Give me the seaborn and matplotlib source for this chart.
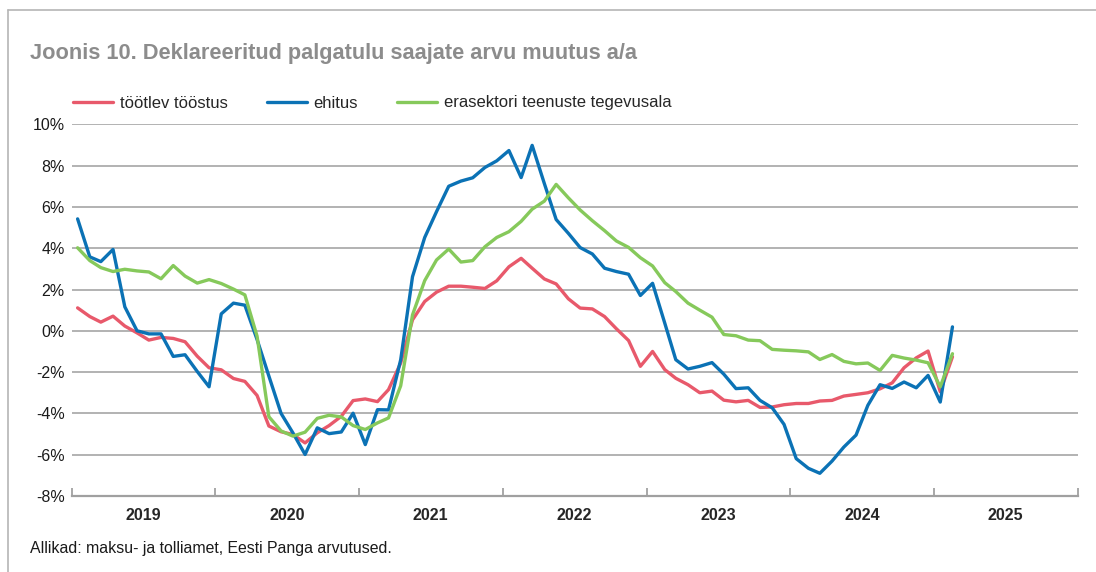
import pandas as pd
import numpy as np
import matplotlib
matplotlib.use('Agg')
import matplotlib.pyplot as plt
import matplotlib.dates as mdates
from matplotlib.lines import Line2D
from matplotlib.ticker import FuncFormatter, FixedLocator
import seaborn as sns

# ==========================
# DATA (monthly, Jan 2019 - Feb 2025, % y/y)
# ==========================
start_month = '2019-01-01'
n_months = 74

tootlev_toostus = [
    1.11, 0.69, 0.42, 0.71, 0.23, -0.10, -0.45, -0.32, -0.37, -0.53, -1.23, -1.79,
    -1.89, -2.31, -2.45, -3.13, -4.61, -4.89, -5.02, -5.43, -4.94, -4.59, -4.14, -3.38,
    -3.30, -3.43, -2.85, -1.56, 0.53, 1.42, 1.87, 2.16, 2.16, 2.11, 2.05, 2.42,
    3.10, 3.51, 3.03, 2.51, 2.27, 1.55, 1.10, 1.06, 0.69, 0.10, -0.47, -1.72,
    -1.00, -1.88, -2.30, -2.61, -3.00, -2.92, -3.36, -3.44, -3.37, -3.71, -3.69, -3.58,
    -3.52, -3.52, -3.40, -3.37, -3.16, -3.08, -3.00, -2.81, -2.52, -1.79, -1.31, -0.98,
    -2.95, -1.26,
]
ehitus = [
    5.42, 3.58, 3.35, 3.94, 1.16, 0.00, -0.15, -0.15, -1.24, -1.16, -1.97, -2.71,
    0.82, 1.34, 1.24, -0.42, -2.19, -4.00, -4.94, -5.99, -4.70, -4.98, -4.90, -3.99,
    -5.51, -3.82, -3.83, -1.40, 2.62, 4.52, 5.77, 7.00, 7.25, 7.41, 7.91, 8.23,
    8.73, 7.42, 8.98, 7.13, 5.39, 4.72, 4.03, 3.72, 3.03, 2.87, 2.74, 1.71,
    2.30, 0.37, -1.40, -1.85, -1.72, -1.54, -2.10, -2.80, -2.76, -3.37, -3.73, -4.53,
    -6.19, -6.66, -6.90, -6.31, -5.63, -5.05, -3.61, -2.61, -2.79, -2.48, -2.76, -2.16,
    -3.45, 0.19,
]
teenused = [
    4.02, 3.40, 3.06, 2.87, 2.98, 2.90, 2.85, 2.52, 3.16, 2.65, 2.31, 2.48,
    2.29, 2.02, 1.74, -0.26, -4.16, -4.85, -5.10, -4.91, -4.24, -4.09, -4.17, -4.59,
    -4.78, -4.46, -4.22, -2.66, 0.77, 2.43, 3.43, 3.96, 3.33, 3.40, 4.07, 4.52,
    4.80, 5.30, 5.89, 6.28, 7.09, 6.44, 5.85, 5.33, 4.85, 4.35, 4.04, 3.54,
    3.14, 2.33, 1.90, 1.34, 1.00, 0.66, -0.18, -0.24, -0.45, -0.48, -0.90, -0.94,
    -0.97, -1.02, -1.39, -1.15, -1.48, -1.60, -1.56, -1.92, -1.19, -1.32, -1.42, -1.55,
    -2.71, -1.11,
]

series_names = ['töötlev tööstus', 'ehitus', 'erasektori teenuste tegevusala']
series_colors = ['#e8596b', '#0b72b5', '#86c95b']
year_labels = ['2019', '2020', '2021', '2022', '2023', '2024', '2025']
y_ticks = [-8, -6, -4, -2, 0, 2, 4, 6, 8, 10]

title_text = 'Joonis 10. Deklareeritud palgatulu saajate arvu muutus a/a'
source_text = 'Allikad: maksu- ja tolliamet, Eesti Panga arvutused.'

# ==========================
# BUILD TABLE
# ==========================
months = pd.date_range(start_month, periods=n_months, freq='MS') + pd.Timedelta(days=15)
df = pd.DataFrame({
    'kuu': np.tile(months, 3),
    'muutus': tootlev_toostus + ehitus + teenused,
    'sektor': np.repeat(series_names, n_months),
})

# ==========================
# PLOT
# ==========================
sns.set_theme(style='white')
plt.rcParams['font.family'] = ['Liberation Sans', 'DejaVu Sans']

W, H = 1096, 572
fig = plt.figure(figsize=(W / 100, H / 100), dpi=100)
ax = fig.add_axes([71.7 / W, 1 - 496 / H, (1078 - 71.7) / W, (496 - 124.3) / H])

sns.lineplot(data=df, x='kuu', y='muutus', hue='sektor', hue_order=series_names,
             palette=series_colors, linewidth=2.4, estimator=None, sort=False,
             legend=False, ax=ax)

ax.set_xlim(pd.Timestamp('2019-01-01'), pd.Timestamp('2026-01-01'))
ax.set_ylim(-8, 10)
ax.set_xlabel('')
ax.set_ylabel('')

# y axis
ax.yaxis.set_major_locator(FixedLocator(y_ticks))
ax.yaxis.set_major_formatter(FuncFormatter(lambda v, p: f'{int(round(v))}%'))
ax.tick_params(axis='y', length=0, pad=5, labelsize=11.5, labelcolor='#1a1a1a')
ax.yaxis.grid(True, color='#a6a6a6', linewidth=1.2)
ax.xaxis.grid(False)
ax.set_axisbelow(True)

# x axis: year boundaries as ticks, year names in the middle
ax.xaxis.set_major_locator(mdates.YearLocator())
ax.xaxis.set_major_formatter(plt.NullFormatter())
ax.xaxis.set_minor_locator(mdates.MonthLocator(bymonth=7))
ax.xaxis.set_minor_formatter(FuncFormatter(lambda v, p: year_labels[p] if p < len(year_labels) else ''))
ax.tick_params(axis='x', which='major', direction='in', length=6, width=1.2,
               color='#9a9a9a', bottom=True)
ax.tick_params(axis='x', which='minor', length=0, pad=9, labelsize=11.5)
for lbl in ax.get_xticklabels(minor=True):
    lbl.set_fontweight('bold')

for side in ['top', 'right', 'left']:
    ax.spines[side].set_visible(False)
ax.spines['bottom'].set_color('#a0a0a0')
ax.spines['bottom'].set_linewidth(1.6)

# legend
handles = [Line2D([0], [0], color=c, linewidth=2.4) for c in series_colors]
fig.legend(handles, series_names, loc='center left',
           bbox_to_anchor=(73 / W, 1 - 103 / H), ncol=3, frameon=False,
           fontsize=12, handlelength=2.4, handletextpad=0.4,
           columnspacing=2.35, borderpad=0, borderaxespad=0)

# title and source
fig.text(30 / W, 1 - 53 / H, title_text, fontsize=15.7, fontweight='bold',
         color='#8c8c8c', va='center', ha='left')
fig.text(30 / W, 1 - 548 / H, source_text, fontsize=11.4, color='#1a1a1a',
         va='center', ha='left')

# frame lines around the chart box
fig.add_artist(Line2D([8 / W, 8 / W], [0, 1 - 10 / H], color='#b5b5b5', linewidth=1.2))
fig.add_artist(Line2D([8 / W, 1], [1 - 10 / H, 1 - 10 / H], color='#b5b5b5', linewidth=1.2))

plt.savefig('out.png', dpi=100)
